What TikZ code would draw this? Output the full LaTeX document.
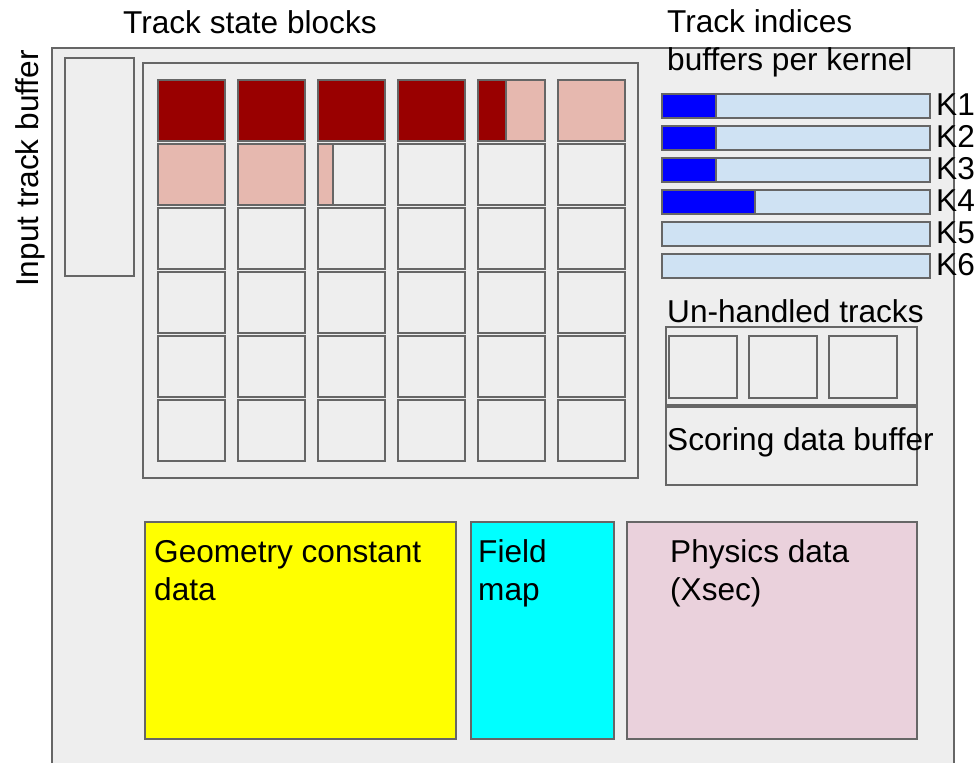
\documentclass[tikz,border=0pt]{standalone}
\usepackage{fontspec}
\setmainfont{Liberation Sans}
\definecolor{edge}{HTML}{666666}
\definecolor{bggray}{HTML}{EEEEEE}
\definecolor{darkred}{HTML}{990000}
\definecolor{pink}{HTML}{E6B8AF}
\definecolor{lightblue}{HTML}{CFE2F3}
\definecolor{blue1}{HTML}{0000FF}
\definecolor{yel}{HTML}{FFFF00}
\definecolor{cyn}{HTML}{00FFFF}
\definecolor{phys}{HTML}{EAD1DC}
\begin{document}
\begin{tikzpicture}[x=1pt,y=-1pt,
  box/.style={draw=edge,line width=2pt},
  lbl/.style={anchor=base west,inner sep=0pt,font=\fontsize{31.6}{38}\selectfont},
  lbl2/.style={lbl,align=left}]
\useasboundingbox (0,0) rectangle (979,763);
% outer memory box
\fill[bggray] (52,48) rectangle (954,763);
\draw[box] (52,763) -- (52,48) -- (954,48) -- (954,763);
% input track buffer
\draw[box,fill=bggray] (65,58) rectangle (134,276);
\node[lbl,rotate=90] (inlbl) at (38,287) {Input track buffer};
% track state blocks
\node[lbl] (tsb) at (123,33) {Track state blocks};
\draw[box,fill=bggray] (143,63) rectangle (638,478);
\foreach \c in {0,...,5}{
  \foreach \r in {0,...,5}{
    \draw[box,fill=bggray] ({158+80*\c},{80+64*\r}) rectangle ({225+80*\c},{141+64*\r});
  }
}
\foreach \c in {0,...,3}{
  \draw[box,fill=darkred] ({158+80*\c},80) rectangle ({225+80*\c},141);
}
\draw[box,fill=pink] (478,80) rectangle (545,141);
\draw[box,fill=darkred] (478,80) rectangle (506,141);
\draw[box,fill=pink] (558,80) rectangle (625,141);
\draw[box,fill=pink] (158,144) rectangle (225,205);
\draw[box,fill=pink] (238,144) rectangle (305,205);
\draw[box,fill=pink] (318,144) rectangle (333,205);
% track indices buffers
\node[lbl2] (tib) at (667,70) {Track indices\\buffers per kernel};
\foreach \k/\w in {1/716,2/716,3/716,4/755,5/662,6/662}{
  \draw[box,fill=lightblue] (662,{94+32*(\k-1)}) rectangle (930,{118+32*(\k-1)});
  \ifnum\k<5
    \draw[box,fill=blue1] (662,{94+32*(\k-1)}) rectangle (\w,{118+32*(\k-1)});
  \fi
  \node[lbl] (k\k) at (936,{115+32*(\k-1)}) {K\k};
}
% un-handled tracks
\node[lbl] (uht) at (667,322) {Un-handled tracks};
\draw[box,fill=bggray] (666,327) rectangle (917,405);
\foreach \i in {0,1,2}{
  \draw[box,fill=bggray] ({669+80*\i},336) rectangle ({737+80*\i},398);
}
% scoring data buffer
\draw[box,fill=bggray] (666,407) rectangle (917,485);
\node[lbl] (sdb) at (667,450) {Scoring data buffer};
% constant data
\draw[box,fill=yel] (145,522) rectangle (456,739);
\node[lbl2] (geo) at (154,600) {Geometry constant\\data};
\draw[box,fill=cyn] (471,522) rectangle (614,739);
\node[lbl2] (fm) at (478,600) {Field\\map};
\draw[box,fill=phys] (627,522) rectangle (917,739);
\node[lbl2] (phy) at (670,600) {Physics data\\(Xsec)};
\end{tikzpicture}
\end{document}
